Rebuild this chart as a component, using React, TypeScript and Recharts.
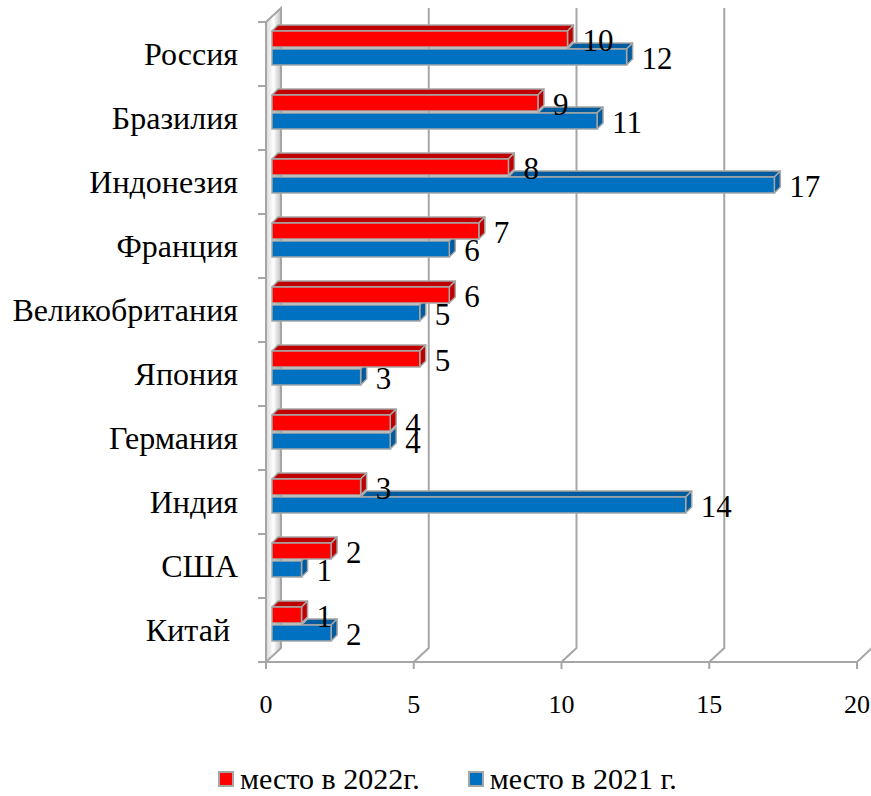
import React from "react";
import { Bar, BarChart, CartesianGrid, LabelList, XAxis, YAxis } from "recharts";

const countries = [
  "Россия",
  "Бразилия",
  "Индонезия",
  "Франция",
  "Великобритания",
  "Япония",
  "Германия",
  "Индия",
  "США",
  "Китай\u00A0",
];
const place2022 = [10, 9, 8, 7, 6, 5, 4, 3, 2, 1];
const place2021 = [12, 11, 17, 6, 5, 3, 4, 14, 1, 2];
const xTicks = [0, 5, 10, 15, 20];

const data = countries.map((country, i) => ({
  country,
  y2022: place2022[i],
  y2021: place2021[i],
}));

const FONT = "'Times New Roman', 'Liberation Serif', 'DejaVu Serif', serif";
const EDGE = "#a6a6a6";
// depth of the back wall and of each bar
const WALL_DX = 15;
const WALL_DY = 14;
const BAR_SHIFT = 6;
const BAR_DEPTH = 6;
const SLOT = 18; // barSize + barGap

const gridLine = (props: any) => {
  const { x1, y1, y2, index } = props;
  if (index === 0) {
    const ticks = [];
    for (let k = 0; k <= countries.length; k++) {
      const ty = y1 + ((y2 - y1) * k) / countries.length;
      ticks.push(<line key={k} x1={x1 - 8} x2={x1} y1={ty} y2={ty} stroke={EDGE} strokeWidth={2} />);
    }
    return (
      <g key={props.key}>
        <polygon
          points={`${x1},${y1} ${x1 + WALL_DX},${y1 - WALL_DY} ${x1 + WALL_DX},${y2 - WALL_DY} ${x1},${y2}`}
          fill="url(#wall)"
          stroke={EDGE}
          strokeWidth={2}
        />
        {ticks}
      </g>
    );
  }
  return (
    <polyline
      key={props.key}
      points={`${x1 + WALL_DX},${y1 - WALL_DY} ${x1 + WALL_DX},${y2 - WALL_DY} ${x1},${y2}`}
      fill="none"
      stroke={EDGE}
      strokeWidth={2}
    />
  );
};

function makeBox(front: string, side: string, moveY: number, other: "y2022" | "y2021" | null) {
  return (props: any) => {
    const { x, y, width, height, payload, value } = props;
    const v = Array.isArray(value) ? value[1] - value[0] : value;
    const fx = x + BAR_SHIFT;
    const fy = y - BAR_SHIFT + moveY;
    const w = width;
    const d = BAR_DEPTH;
    // where the top face is hidden by the bar drawn above
    let topStart = fx;
    if (other && payload && v) {
      const ow = (payload[other] * w) / v;
      topStart = fx + Math.min(ow, w);
    }
    return (
      <g>
        {topStart < fx + w && (
          <polygon
            points={`${topStart},${fy} ${topStart + d},${fy - d} ${fx + w + d},${fy - d} ${fx + w},${fy}`}
            fill={side}
            stroke={EDGE}
            strokeWidth={1.5}
            strokeLinejoin="round"
          />
        )}
        <polygon
          points={`${fx + w},${fy} ${fx + w + d},${fy - d} ${fx + w + d},${fy + height - d} ${fx + w},${fy + height}`}
          fill={side}
          stroke={EDGE}
          strokeWidth={1.5}
          strokeLinejoin="round"
        />
        <rect x={fx} y={fy} width={w} height={height} fill={front} stroke={EDGE} strokeWidth={1.5} />
      </g>
    );
  };
}

function makeLabel(moveY: number) {
  return (props: any) => {
    const { x, y, width, height, value } = props;
    return (
      <text
        x={x + width + BAR_SHIFT + BAR_DEPTH + 9}
        y={y - BAR_SHIFT + moveY + height / 2 + 5}
        dominantBaseline="middle"
        fontFamily={FONT}
        fontSize={31}
        fill="#000"
      >
        {value}
      </text>
    );
  };
}

const legendItems = [
  { label: "место в 2022г.", color: "#ff0000" },
  { label: "место в 2021 г.", color: "#0070c0" },
];

export default function App() {
  return (
    <div style={{ position: "absolute", left: 0, top: 0, width: 871, height: 796, background: "#fff", overflow: "hidden" }}>
      <BarChart
        width={871}
        height={796}
        data={data}
        layout="vertical"
        margin={{ top: 22, right: 14, left: 0, bottom: 74 }}
        barSize={16}
        barGap={2}
      >
        <defs>
          <linearGradient id="wall" x1="0" y1="0" x2="1" y2="0">
            <stop offset="0%" stopColor="#d9d9d9" />
            <stop offset="50%" stopColor="#ffffff" />
            <stop offset="100%" stopColor="#bfbfbf" />
          </linearGradient>
        </defs>
        <CartesianGrid horizontal={false} vertical={gridLine} />
        <XAxis
          type="number"
          domain={[0, 20]}
          ticks={xTicks}
          interval={0}
          height={60}
          axisLine={{ stroke: EDGE, strokeWidth: 2 }}
          tickLine={{ stroke: EDGE, strokeWidth: 2 }}
          tickSize={7}
          tickMargin={26}
          tick={{ fontFamily: FONT, fontSize: 26, fill: "#000" }}
        />
        <YAxis
          type="category"
          dataKey="country"
          width={266}
          axisLine={false}
          tickLine={false}
          tickMargin={22}
          tick={{ fontFamily: FONT, fontSize: 32, fill: "#000" }}
        />
        {/* blue is drawn first so the red boxes cover its hidden faces; the slots are swapped back */}
        <Bar dataKey="y2021" isAnimationActive={false} shape={makeBox("#0070c0", "#005b9f", SLOT, "y2022")}>
          <LabelList dataKey="y2021" content={makeLabel(SLOT)} />
        </Bar>
        <Bar dataKey="y2022" isAnimationActive={false} shape={makeBox("#ff0000", "#c00000", -SLOT, null)}>
          <LabelList dataKey="y2022" content={makeLabel(-SLOT)} />
        </Bar>
      </BarChart>
      <div
        style={{
          position: "absolute",
          top: 762,
          left: 218,
          display: "flex",
          gap: 48,
          fontFamily: FONT,
          fontSize: 30,
          lineHeight: "34px",
          whiteSpace: "nowrap",
        }}
      >
        {legendItems.map((it) => (
          <div key={it.label} style={{ display: "flex", alignItems: "center" }}>
            <span
              style={{
                display: "inline-block",
                width: 12,
                height: 12,
                background: it.color,
                border: `2px solid ${EDGE}`,
                marginRight: 6,
              }}
            />
            {it.label}
          </div>
        ))}
      </div>
    </div>
  );
}
